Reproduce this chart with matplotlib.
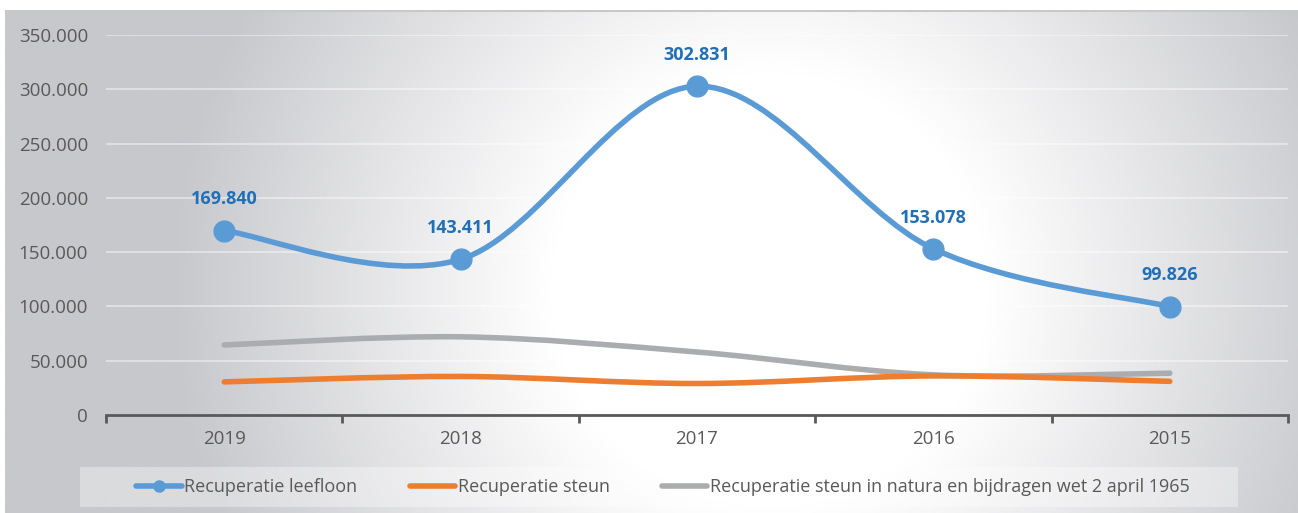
import numpy as np
import matplotlib
matplotlib.use("Agg")
import matplotlib.pyplot as plt
from matplotlib.path import Path
from matplotlib.patches import PathPatch, Rectangle
from matplotlib.lines import Line2D
from matplotlib.ticker import FuncFormatter, MultipleLocator

# ---- data ----
years = ["2019", "2018", "2017", "2016", "2015"]
leefloon = [169840, 143411, 302831, 153078, 99826]
steun = [30500, 35500, 29000, 36000, 31000]
natura = [64500, 72000, 58000, 37000, 38500]
series_names = ["Recuperatie leefloon", "Recuperatie steun",
                "Recuperatie steun in natura en bijdragen wet 2 april 1965"]

BLUE = "#5B9BD5"
ORANGE = "#ED7D31"
GRAY = "#ABACB0"
LABEL_BLUE = "#1F6FB9"
TXT = "#595959"

W, H = 1298, 513
fig = plt.figure(figsize=(W / 100, H / 100), dpi=100)
fig.patch.set_facecolor("white")
font = ["Open Sans", "DejaVu Sans"]

# ---- background radial gradient (pixel space) ----
bg = fig.add_axes([5 / W, 0, 1 - 5 / W, (H - 10) / H])
bg.set_axis_off()
xx, yy = np.meshgrid(np.linspace(5, W, 520), np.linspace(10, H, 200))
r = np.sqrt((xx - 770) ** 2 + (yy - 290) ** 2)
t = np.clip((r - 220) / 380, 0, 1)
edge = np.array([199, 200, 204]) / 255.0
img = (1 - t)[..., None] * np.ones(3) + t[..., None] * edge
bg.imshow(img, aspect="auto", extent=[0, 1, 0, 1], origin="upper")
bg.set_xlim(0, 1)
bg.set_ylim(0, 1)
bg.plot([0, 1], [0.998, 0.998], color="#C8C8C8", lw=1.5)

# ---- main axes ----
ax = fig.add_axes([106 / W, 98 / H, (1288 - 106) / W, (415 - 35) / H])
ax.patch.set_alpha(0)
ax.set_xlim(-0.5, len(years) - 0.5)
ax.set_ylim(0, 350000)
for s in ["top", "right", "left"]:
    ax.spines[s].set_visible(False)
ax.spines["bottom"].set_color(TXT)
ax.spines["bottom"].set_linewidth(2)
ax.yaxis.set_major_locator(MultipleLocator(50000))
ax.yaxis.set_major_formatter(FuncFormatter(lambda v, p: f"{int(v):,}".replace(",", ".")))
ax.tick_params(axis="y", length=0, pad=13, labelsize=13.5, labelcolor=TXT)
ax.set_xticks(np.arange(-0.5, len(years) + 0.5, 1))
ax.set_xticklabels([])
ax.set_xticks(np.arange(len(years)), minor=True)
ax.set_xticklabels(years, minor=True)
ax.tick_params(axis="x", which="major", length=6, width=2, color=TXT)
ax.tick_params(axis="x", which="minor", length=0, pad=11, labelsize=13.5, labelcolor=TXT)
for lab in ax.get_yticklabels() + ax.get_xticklabels(minor=True):
    lab.set_fontfamily(font)
ax.grid(axis="y", color="white", alpha=0.5, lw=1.2)
ax.set_axisbelow(True)


def smooth_path(xs, ys):
    pts = np.column_stack([xs, ys]).astype(float)
    n = len(pts)
    verts = [pts[0]]
    codes = [Path.MOVETO]
    for i in range(n - 1):
        p0 = pts[i - 1] if i > 0 else pts[i]
        p1 = pts[i]
        p2 = pts[i + 1]
        p3 = pts[i + 2] if i + 2 < n else pts[i + 1]
        c1 = p1 + (p2 - p0) / 6.0
        c2 = p2 - (p3 - p1) / 6.0
        verts += [c1, c2, p2]
        codes += [Path.CURVE4] * 3
    return Path(verts, codes)


x = np.arange(len(years))
for vals, col in [(natura, GRAY), (steun, ORANGE), (leefloon, BLUE)]:
    ax.add_patch(PathPatch(smooth_path(x, vals), facecolor="none", edgecolor=col,
                           lw=4, capstyle="round", joinstyle="round", zorder=3))
ax.plot(x, leefloon, "o", color=BLUE, ms=15, zorder=4, clip_on=False)
for xi, v in zip(x, leefloon):
    ax.annotate(f"{v:,}".replace(",", "."), (xi, v), xytext=(0, 16),
                textcoords="offset points", ha="center", va="bottom",
                color=LABEL_BLUE, fontsize=13, fontweight="bold", fontfamily=font)

# ---- legend ----
fig.patches.append(Rectangle((80 / W, 6 / H), (1238 - 80) / W, 40 / H,
                             transform=fig.transFigure, facecolor="white",
                             alpha=0.35, edgecolor="none", zorder=1))
handles = [
    Line2D([], [], color=BLUE, lw=4, marker="o", ms=8, solid_capstyle="round"),
    Line2D([], [], color=ORANGE, lw=4, solid_capstyle="round"),
    Line2D([], [], color=GRAY, lw=4, solid_capstyle="round"),
]
leg = fig.legend(handles, series_names, loc="center", bbox_to_anchor=(663 / W, 26 / H),
                 ncol=3, frameon=False, handlelength=2.5, handletextpad=0.15,
                 columnspacing=2.9, prop={"family": font, "size": 13})
for t_ in leg.get_texts():
    t_.set_color(TXT)

fig.savefig("out.png", dpi=100, facecolor="white")
